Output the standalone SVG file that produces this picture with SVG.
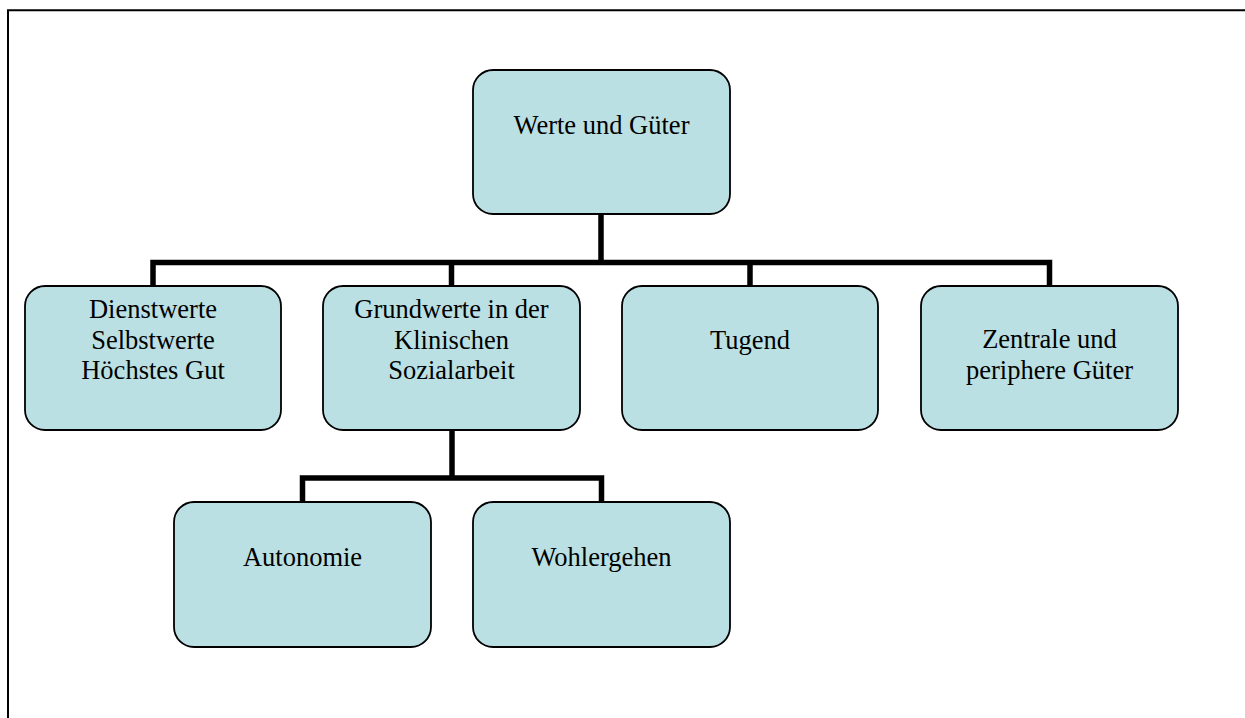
<svg xmlns="http://www.w3.org/2000/svg" width="1245" height="718" viewBox="0 0 1245 718">
  <style>
    .box { fill: #BBE0E3; stroke: #000; stroke-width: 1.8; }
    .lbl { font-family: "Liberation Serif", "Times New Roman", serif; font-size: 26.5px; fill: #000; text-anchor: middle; }
    .conn { fill: none; stroke: #000; stroke-width: 5.5; stroke-linejoin: miter; stroke-linecap: butt; }
  </style>
  <rect width="1245" height="718" fill="#fff"/>
  <!-- page frame: only the top and left edges fall inside the view -->
  <path d="M8 718 V10.3 H1245" fill="none" stroke="#000" stroke-width="2"/>

  <g id="connectors">
    <path class="conn" d="M601 214 V262.5"/>
    <path class="conn" d="M153 286 V262.5 H1049.5 V286"/>
    <path class="conn" d="M451.5 262.5 V286"/>
    <path class="conn" d="M750 262.5 V286"/>
    <path class="conn" d="M452 430 V478"/>
    <path class="conn" d="M302.5 502 V478 H601.5 V502"/>
  </g>

  <g id="werte-und-gueter">
    <rect class="box" x="473" y="70" width="257" height="144" rx="20"/>
    <text class="lbl" x="601.5" y="134">Werte und Güter</text>
  </g>

  <g id="dienstwerte">
    <rect class="box" x="25" y="286" width="256" height="144" rx="20"/>
    <text class="lbl" x="153" y="318">Dienstwerte</text>
    <text class="lbl" x="153" y="348.5">Selbstwerte</text>
    <text class="lbl" x="153" y="379">Höchstes Gut</text>
  </g>

  <g id="grundwerte">
    <rect class="box" x="323" y="286" width="257" height="144" rx="20"/>
    <text class="lbl" x="451.5" y="318">Grundwerte in der</text>
    <text class="lbl" x="451.5" y="348.5">Klinischen</text>
    <text class="lbl" x="451.5" y="379">Sozialarbeit</text>
  </g>

  <g id="tugend">
    <rect class="box" x="622" y="286" width="256" height="144" rx="20"/>
    <text class="lbl" x="750" y="349">Tugend</text>
  </g>

  <g id="zentrale-gueter">
    <rect class="box" x="921" y="286" width="257" height="144" rx="20"/>
    <text class="lbl" x="1049.5" y="348">Zentrale und</text>
    <text class="lbl" x="1049.5" y="378.5">periphere Güter</text>
  </g>

  <g id="autonomie">
    <rect class="box" x="174" y="502" width="257" height="145" rx="20"/>
    <text class="lbl" x="302.5" y="566">Autonomie</text>
  </g>

  <g id="wohlergehen">
    <rect class="box" x="473" y="502" width="257" height="145" rx="20"/>
    <text class="lbl" x="601.5" y="566">Wohlergehen</text>
  </g>
</svg>
